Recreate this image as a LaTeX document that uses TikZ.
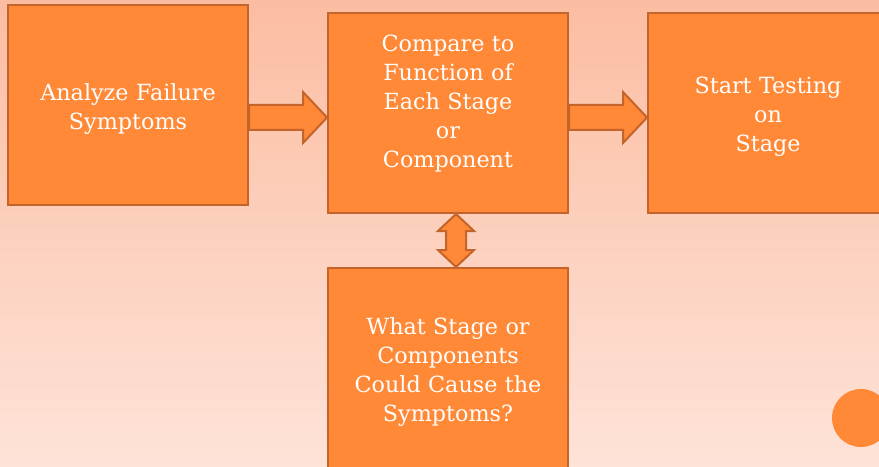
\documentclass[tikz,border=0pt]{standalone}
\usepackage{fontspec}
\setmainfont{DejaVu Serif}
\usepackage{tikz}
\usetikzlibrary{calc,positioning}

\definecolor{boxorange}{RGB}{255,137,54}
\definecolor{boxedge}{RGB}{196,100,42}
\definecolor{bgtop}{RGB}{251,189,162}
\definecolor{bgbottom}{RGB}{254,227,216}

\begin{document}
\begin{tikzpicture}[x=0.75pt,y=-0.75pt]

	\tikzstyle{stagebox} = [rectangle, draw=boxedge, line width=1.5pt, fill=boxorange,
		text=white, text width=170pt, align=center, minimum width=180pt, minimum height=150pt,
		font=\fontsize{16.7}{21.75}\selectfont, execute at begin node={\rule{0pt}{18.7pt}}]
	\tikzstyle{fatarrow} = [draw=boxedge, line width=1.5pt, fill=boxorange, line join=miter]

	% background
	\clip (0,0) rectangle (879,467);
	\shade [top color=bgtop, bottom color=bgbottom] (0,0) rectangle (879,467);

    % Place nodes
    \node [stagebox] at (128, 105) (analyze) {Analyze Failure\\Symptoms};
    \node [stagebox] at (448, 113) (compare) {Compare to\\Function of\\Each Stage\\or\\Component\rule[-24pt]{0pt}{0pt}};
    \node [stagebox] at (768, 113) (testing) {Start Testing\\on\\Stage};
    \node [stagebox] at (448, 368) (cause) {What Stage or\\Components\\Could Cause the\\Symptoms?};

    \node [circle, fill=boxorange, minimum size=43.5pt, inner sep=0pt] at (861, 418) (dot) {};

    % Draw edges
    \draw [fatarrow] (analyze.east |- 0,105) -- ($(compare.west |- 0,105)+(-24,0)$)
        -- ++(0,-13) -- (compare.west |- 0,117.5) -- ++(-24,25.5) -- ++(0,-13)
        -- (analyze.east |- 0,130) -- cycle;
    \draw [fatarrow] (compare.east |- 0,105) -- ($(testing.west |- 0,105)+(-24,0)$)
        -- ++(0,-13) -- (testing.west |- 0,117.5) -- ++(-24,25.5) -- ++(0,-13)
        -- (compare.east |- 0,130) -- cycle;
    \draw [fatarrow] ($(compare.south)+(8,0)$) -- ++(18,17) -- ++(-8,0)
        -- ($(cause.north)+(18,-17)$) -- ++(8,0) -- ($(cause.north)+(8,0)$)
        -- ++(-18,-17) -- ++(8,0) -- ($(compare.south)+(-2,17)$) -- ++(-8,0) -- cycle;
\end{tikzpicture}
\end{document}
